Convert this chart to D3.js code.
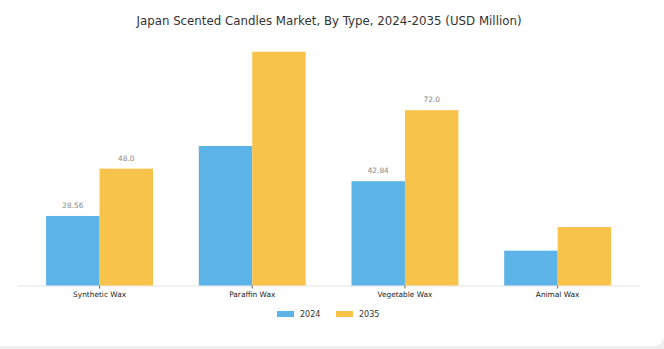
<!DOCTYPE html>
<html><head><meta charset="utf-8">
<script src="https://cdn.jsdelivr.net/npm/d3@7"></script>
<style>html,body{margin:0;padding:0;background:#efefef;}svg{display:block;}</style>
</head><body>
<svg id="c" width="664" height="349"></svg>
<script>
const title = "Japan Scented Candles Market, By Type, 2024-2035 (USD Million)";
const categories = ["Synthetic Wax", "Paraffin Wax", "Vegetable Wax", "Animal Wax"];
const seriesNames = ["2024", "2035"];
const values2024 = [28.56, 57.3, 42.84, 14.3];
const values2035 = [48.0, 96.0, 72.0, 24.0];
const labels2024 = ["28.56", null, "42.84", null];
const labels2035 = ["48.0", null, "72.0", null];
const colors = ["#5cb3e8", "#f8c34a"];

const svg = d3.select("#c");
svg.append("rect").attr("x", -12).attr("y", -12).attr("width", 676).attr("height", 358)
  .attr("rx", 10).attr("fill", "#fff");

svg.append("text").attr("x", 329).attr("y", 25).attr("text-anchor", "middle")
  .attr("font-family", "DejaVu Sans").attr("font-size", 11.8).attr("fill", "#333")
  .text(title);

const baseY = 285.5;
const y = d3.scaleLinear().domain([0, 100]).range([baseY, baseY - 243.5]);
const x = d3.scaleBand().domain(categories).range([23.2, 634]).paddingInner(0.3).paddingOuter(0.15);
const xs = d3.scaleBand().domain(seriesNames).range([0, x.bandwidth()]);

const series = [values2024, values2035];
const labels = [labels2024, labels2035];

// axis line
svg.append("line").attr("x1", 18).attr("x2", 640).attr("y1", baseY + 0.5).attr("y2", baseY + 0.5)
  .attr("stroke", "#e3e3e3").attr("stroke-width", 1);

const g = svg.append("g");
seriesNames.forEach((s, si) => {
  categories.forEach((c, ci) => {
    const v = series[si][ci];
    g.append("rect").attr("x", x(c) + xs(s)).attr("y", y(v))
      .attr("width", xs.bandwidth()).attr("height", baseY - y(v)).attr("fill", colors[si]);
    if (labels[si][ci]) {
      g.append("text").attr("x", x(c) + xs(s) + xs.bandwidth() / 2).attr("y", y(v) - 8)
        .attr("text-anchor", "middle").attr("font-family", "DejaVu Sans").attr("font-size", 7.4)
        .attr("fill", "#888").text(labels[si][ci]);
    }
  });
});

// x axis
const axis = d3.axisBottom(x).tickSize(3).tickPadding(3);
const ag = svg.append("g").attr("transform", `translate(0,${baseY})`).call(axis);
ag.select(".domain").remove();
ag.selectAll(".tick line").attr("stroke", "#666");
ag.selectAll(".tick text").attr("font-family", "DejaVu Sans").attr("font-size", 7.4).attr("fill", "#222");

// legend
const leg = svg.append("g");
const legX = [277, 336];
seriesNames.forEach((s, i) => {
  leg.append("rect").attr("x", legX[i]).attr("y", 311).attr("width", 17).attr("height", 6).attr("fill", colors[i]);
  leg.append("text").attr("x", legX[i] + 23).attr("y", 317).attr("font-family", "DejaVu Sans")
    .attr("font-size", 8).attr("fill", "#333").text(s);
});
</script>
</body></html>
